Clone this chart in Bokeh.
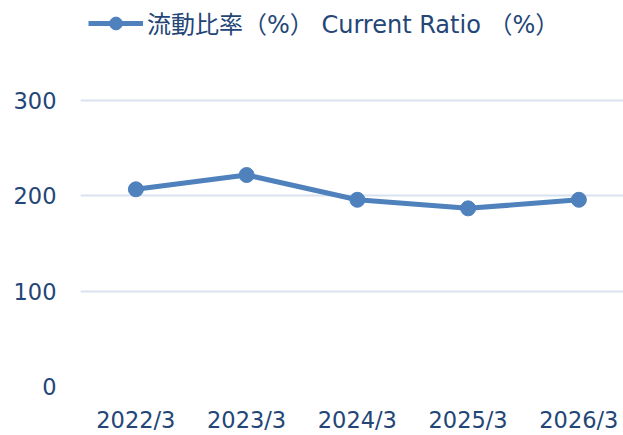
from bokeh.plotting import figure
from bokeh.models import FixedTicker, Legend, LegendItem, Range1d
from bokeh.embed import file_html
from bokeh.resources import INLINE

categories = ["2022/3", "2023/3", "2024/3", "2025/3", "2026/3"]
values = [207, 222, 196, 187, 196]
y_ticks = [0, 100, 200, 300]
series_label = "流動比率（%） Current Ratio （%）"

FONT = "DejaVu Sans, Noto Sans CJK JP"
TEXT = "#234677"
LINE = "#4F81BD"
GRID = "#D9E2F0"

xs = list(range(len(categories)))

p = figure(width=623, height=435, output_backend="svg", toolbar_location=None,
           x_range=Range1d(-0.5, 4.403), y_range=Range1d(0, 405.2),
           min_border_left=80, min_border_right=0, min_border_top=0, min_border_bottom=46)
p.outline_line_color = None
p.background_fill_color = "white"
p.border_fill_color = "white"

ln = p.line(xs, values, line_color=LINE, line_width=5)
sc = p.scatter(xs, values, size=15, fill_color=LINE, line_color=LINE)

p.xaxis.ticker = FixedTicker(ticks=xs)
p.xaxis.major_label_overrides = {i: c for i, c in enumerate(categories)}
p.yaxis.ticker = FixedTicker(ticks=y_ticks)
for ax in (p.xaxis, p.yaxis):
    ax.axis_line_color = None
    ax.major_tick_line_color = None
    ax.minor_tick_line_color = None
    ax.major_tick_out = 0
    ax.major_label_text_font = FONT
    ax.major_label_text_font_size = "22.5px"
    ax.major_label_text_color = TEXT
p.yaxis.major_label_standoff = 24
p.xaxis.major_label_standoff = 20

p.xgrid.grid_line_color = None
p.ygrid.grid_line_color = GRID
p.ygrid.grid_line_width = 2

legend = Legend(items=[LegendItem(label=series_label, renderers=[ln, sc])],
                location=(8, 346), margin=0, padding=0, label_standoff=4,
                glyph_width=55, glyph_height=32, border_line_color=None,
                background_fill_alpha=0,
                label_text_font=FONT, label_text_font_size="24px",
                label_text_color=TEXT)
p.add_layout(legend)

open("out.html", "w").write(file_html(p, INLINE))
